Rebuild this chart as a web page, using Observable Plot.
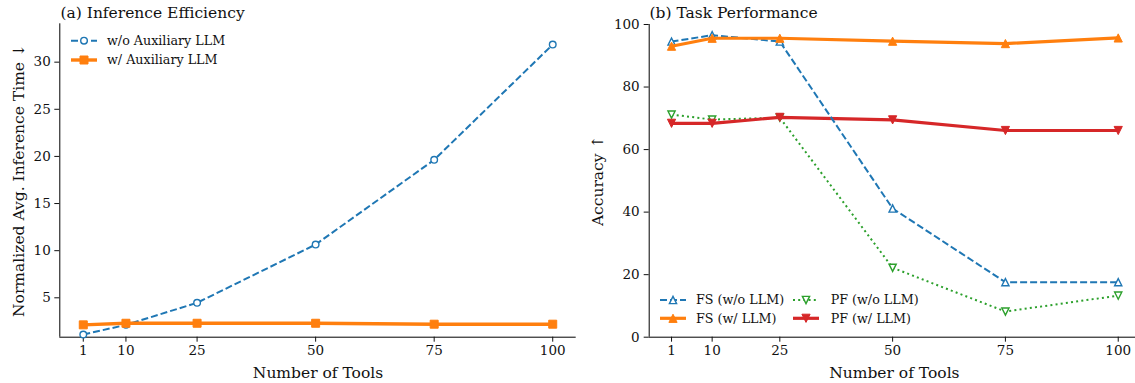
<!DOCTYPE html>
<html><head><meta charset="utf-8">
<script src="https://cdn.jsdelivr.net/npm/d3@7"></script>
<script src="https://cdn.jsdelivr.net/npm/@observablehq/plot@0.6"></script>
<style>
html,body{margin:0;padding:0;background:#fff;overflow:hidden}
#wrap{position:relative;width:1135px;height:383px}
#wrap svg{position:absolute;top:0}
</style></head><body><div id="wrap"></div>
<script>
// ---- data ----
const tools = [1, 10, 25, 50, 75, 100];
const toolTicks = [1, 10, 25, 50, 75, 100];
const timeWithout = [1.1, 2.13, 4.47, 10.65, 19.64, 31.87];
const timeWith = [2.13, 2.3, 2.3, 2.3, 2.2, 2.2];
const fsWithout = [94.55, 96.58, 94.55, 41.16, 17.59, 17.59];
const fsWith = [93.06, 95.6, 95.6, 94.66, 93.9, 95.7];
const pfWithout = [71.2, 69.6, 70.2, 22.2, 8.2, 13.3];
const pfWith = [68.4, 68.4, 70.3, 69.5, 66.1, 66.1];
const leftYTicks = [5, 10, 15, 20, 25, 30];
const rightYTicks = [0, 20, 40, 60, 80, 100];
const leftLabels = ["w/o Auxiliary LLM", "w/ Auxiliary LLM"];
const rightLabels = ["FS (w/o LLM)", "FS (w/ LLM)", "PF (w/o LLM)", "PF (w/ LLM)"];

const C = {blue: "#1f77b4", orange: "#ff7f0e", green: "#2ca02c", red: "#d62728"};
const FONT = "DejaVu Serif, serif";
const TICK_FS = 13.5, LABEL_FS = 15.5, LEGEND_FS = 12.7;
const rad = s => Math.sqrt(s / Math.PI);
const triUp = {draw(c, s) { const r = rad(s); c.moveTo(0, -r); c.lineTo(r, r); c.lineTo(-r, r); c.closePath(); }};
const triDown = {draw(c, s) { const r = rad(s); c.moveTo(0, r); c.lineTo(r, -r); c.lineTo(-r, -r); c.closePath(); }};
const sq = {draw(c, s) { const r = rad(s); c.rect(-r, -r, 2 * r, 2 * r); }};

const rows = vals => tools.map((t, i) => ({t, v: vals[i]}));

const S = {
  wo: {stroke: C.blue, strokeWidth: 2, dash: "7,3", sym: "circle", r: 3.3, fill: "white", ms: 1.4},
  w: {stroke: C.orange, strokeWidth: 3.4, dash: null, sym: sq, r: 4, fill: C.orange, ms: 1},
  fsWo: {stroke: C.blue, strokeWidth: 2, dash: "7,3", sym: triUp, r: 3.6, fill: "white", ms: 1.4},
  fsW: {stroke: C.orange, strokeWidth: 3.2, dash: null, sym: triUp, r: 4.1, fill: C.orange, ms: 1},
  pfWo: {stroke: C.green, strokeWidth: 2, dash: "2,3.2", sym: triDown, r: 3.6, fill: "white", ms: 1.4},
  pfW: {stroke: C.red, strokeWidth: 3.2, dash: null, sym: triDown, r: 4.1, fill: C.red, ms: 1}
};

function series(vals, st) {
  const d = rows(vals);
  return [
    Plot.line(d, {x: "t", y: "v", stroke: st.stroke, strokeWidth: st.strokeWidth, strokeDasharray: st.dash || undefined, strokeLinecap: "butt", strokeLinejoin: "round"}),
    Plot.dot(d, {x: "t", y: "v", symbol: st.sym, r: st.r, stroke: st.stroke, fill: st.fill, strokeWidth: st.ms})
  ];
}

function drawLegend(svg, items) {
  const g = d3.select(svg).append("g").attr("font-family", FONT).attr("font-size", LEGEND_FS).attr("text-anchor", "start");
  for (const it of items) {
    const st = it.st;
    g.append("line").attr("x1", it.x0).attr("x2", it.x1).attr("y1", it.y).attr("y2", it.y)
      .attr("stroke", st.stroke).attr("stroke-width", st.strokeWidth)
      .attr("stroke-dasharray", st.dash).attr("stroke-linecap", "butt");
    const type = st.sym === "circle" ? d3.symbolCircle : st.sym;
    g.append("path").attr("d", d3.symbol(type, Math.PI * st.r * st.r)())
      .attr("transform", `translate(${(it.x0 + it.x1) / 2},${it.y})`)
      .attr("fill", st.fill).attr("stroke", st.stroke).attr("stroke-width", st.ms);
    g.append("text").attr("x", it.tx).attr("y", it.y).attr("dy", "0.35em")
      .attr("text-anchor", "start").attr("fill", "#111").style("font-size", LEGEND_FS + "px").text(it.label);
  }
}

function fixTicks(svg) {
  d3.select(svg).selectAll("g[aria-label]").each(function () {
    const lab = this.getAttribute("aria-label") || "";
    if (/tick label/.test(lab) || /axis/.test(lab) && this.querySelector("text")) {
      d3.select(this).selectAll("text").style("font-size", TICK_FS + "px");
    }
  });
}

const baseStyle = {fontFamily: FONT, fontSize: "13px", background: "white", color: "#111", overflow: "visible"};

// ---- left chart ----
const leftX = [-3.95, 104.95], leftY = [0.82, 34.07];
const left = Plot.plot({
  width: 580, height: 383,
  marginLeft: 59.3, marginRight: 4.3, marginTop: 23.3, marginBottom: 46.3,
  style: baseStyle,
  x: {domain: leftX},
  y: {domain: leftY},
  marks: [
    Plot.ruleY([leftY[0]], {stroke: "#000", strokeWidth: 1}),
    Plot.ruleX([leftX[0]], {stroke: "#000", strokeWidth: 1}),
    Plot.axisX({ticks: toolTicks, tickSize: 5, tickPadding: 3.5, tickFormat: d => String(d), label: null}),
    Plot.axisY({ticks: leftYTicks, tickSize: 5, tickPadding: 4, tickFormat: d => String(d), label: null}),
    ...series(timeWithout, S.wo),
    ...series(timeWith, S.w),
    Plot.text(["(a) Inference Efficiency"], {text: d => d, frameAnchor: "top-left", textAnchor: "start", lineAnchor: "middle", dy: -10.3, dx: 0.7, fontSize: LABEL_FS, fill: "#111"}),
    Plot.text(["Number of Tools"], {text: d => d, frameAnchor: "bottom", lineAnchor: "middle", dy: 36.3, fontSize: LABEL_FS, fill: "#111"}),
    Plot.text(["Normalized Avg. Inference Time ↓"], {text: d => d, frameAnchor: "left", rotate: -90, lineAnchor: "middle", textAnchor: "middle", dx: -41, fontSize: LABEL_FS, fill: "#111"})
  ]
});
left.style.left = "0px";
fixTicks(left);
drawLegend(left, [
  {x0: 71, x1: 97, y: 40.7, tx: 107, label: leftLabels[0], st: S.wo},
  {x0: 71, x1: 97, y: 60, tx: 107, label: leftLabels[1], st: S.w}
]);

// ---- right chart ----
const rightX = [-3.95, 103.83], rightY = [0, 100];
const right = Plot.plot({
  width: 555, height: 383,
  marginLeft: 68.7, marginRight: 0, marginTop: 24, marginBottom: 46.3,
  style: baseStyle,
  x: {domain: rightX},
  y: {domain: rightY},
  marks: [
    Plot.ruleY([rightY[0]], {stroke: "#000", strokeWidth: 1}),
    Plot.ruleX([rightX[0]], {stroke: "#000", strokeWidth: 1}),
    Plot.axisX({ticks: toolTicks, tickSize: 5, tickPadding: 3.5, tickFormat: d => String(d), label: null}),
    Plot.axisY({ticks: rightYTicks, tickSize: 5, tickPadding: 4.5, tickFormat: d => String(d), label: null}),
    ...series(pfWithout, S.pfWo),
    ...series(pfWith, S.pfW),
    ...series(fsWithout, S.fsWo),
    ...series(fsWith, S.fsW),
    Plot.text(["(b) Task Performance"], {text: d => d, frameAnchor: "top-left", textAnchor: "start", lineAnchor: "middle", dy: -11, dx: 0.3, fontSize: LABEL_FS, fill: "#111"}),
    Plot.text(["Number of Tools"], {text: d => d, frameAnchor: "bottom", lineAnchor: "middle", dy: 36.3, dx: 2, fontSize: LABEL_FS, fill: "#111"}),
    Plot.text(["Accuracy ↑"], {text: d => d, frameAnchor: "left", rotate: -90, lineAnchor: "middle", textAnchor: "middle", dx: -51, fontSize: LABEL_FS, fill: "#111"})
  ]
});
right.style.left = "580px";
fixTicks(right);
drawLegend(right, [
  {x0: 80, x1: 106, y: 300, tx: 116, label: rightLabels[0], st: S.fsWo},
  {x0: 80, x1: 106, y: 318.3, tx: 116, label: rightLabels[1], st: S.fsW},
  {x0: 213, x1: 239, y: 300, tx: 250.7, label: rightLabels[2], st: S.pfWo},
  {x0: 213, x1: 239, y: 318.3, tx: 250.7, label: rightLabels[3], st: S.pfW}
]);

const wrap = document.getElementById("wrap");
wrap.appendChild(left);
wrap.appendChild(right);
</script></body></html>
